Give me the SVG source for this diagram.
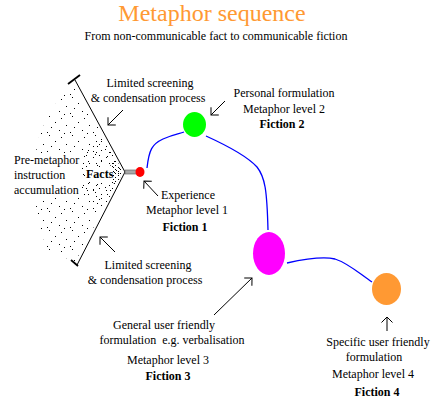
<svg xmlns="http://www.w3.org/2000/svg" width="440" height="416" viewBox="0 0 440 416">
<style>
text{font-family:"Liberation Serif","Times New Roman",serif;font-size:12px;fill:#000}
.c{text-anchor:middle}
.b{font-weight:bold}
.title{font-size:24px;fill:#FF9933}
.ln{stroke:#000;stroke-width:1;fill:none}
.tick{stroke:#000;stroke-width:1.8;fill:none}
.arr{stroke:#000;stroke-width:1;fill:none;marker-end:url(#ah)}
.blue{stroke:#0000FF;stroke-width:1.3;fill:none}
.d{fill:#000}
</style>
<defs>
<marker id="ah" markerUnits="userSpaceOnUse" markerWidth="12" markerHeight="12" viewBox="-7 -6 8 12" refX="0" refY="0" orient="auto">
<path d="M-5.5,-5.5 L0,0 L-5.5,5.5" fill="none" stroke="#000" stroke-width="1"/>
</marker>
<pattern id="p1" patternUnits="userSpaceOnUse" width="23" height="19">
<path class="d" d="M3,2h1v1h-1z M15,4h1v1h-1z M9,8h1v1h-1z M20,11h1v1h-1z M5,13h1v1h-1z M13,16h1v1h-1z M1,18h1v1h-1z M18,0h1v1h-1z"/>
</pattern>
<pattern id="p2" patternUnits="userSpaceOnUse" width="13" height="11">
<path class="d" d="M2,3h1v1h-1z M8,1h1v1h-1z M10,7h1v1h-1z M5,9h1v1h-1z"/>
</pattern>
<pattern id="p3" patternUnits="userSpaceOnUse" width="5" height="4">
<path class="d" d="M0,1h1v1h-1z M3,3h1v1h-1z"/>
</pattern>
<clipPath id="fan">
<polygon points="123,172 75,83 62,95 48,115 38,140 33,170 35,200 40,230 48,250 75,262"/>
</clipPath>
</defs>
<rect width="440" height="416" fill="#fff"/>

<g id="title">
<text class="title c" x="212" y="21">Metaphor sequence</text>
<text class="c" x="216" y="40">From non-communicable fact to communicable fiction</text>
</g>

<g id="stipple" clip-path="url(#fan)">
<rect x="0" y="60" width="130" height="220" fill="url(#p1)"/>
<circle cx="125" cy="172" r="45" fill="url(#p2)"/>
<circle cx="125" cy="172" r="16" fill="url(#p3)"/>
</g>

<g id="screen">
<line class="ln" x1="75" y1="80" x2="125" y2="172"/>
<line class="ln" x1="125" y1="172" x2="77" y2="265"/>
<line class="tick" x1="68" y1="84" x2="80" y2="75"/>
<line class="tick" x1="71" y1="260" x2="78" y2="266"/>
</g>

<g id="premetaphor">
<rect x="12" y="153" width="70" height="45" fill="#fff"/>
<text x="14" y="164">Pre-metaphor</text>
<text x="14" y="179">instruction</text>
<text x="14" y="194">accumulation</text>
</g>

<g id="facts">
<rect x="85" y="167" width="28" height="14" fill="#fff"/>
<text class="b" x="86" y="178">Facts</text>
<rect x="125" y="170" width="12" height="4" fill="#a8a8a8" stroke="#555" stroke-width="0.6"/>
</g>

<g id="connectors">
<path class="blue" d="M147,168 C149,150 152,144 163,139 S178,134 184,132"/>
<path class="blue" d="M206,136 C228,146 247,156 257,167 C265,177 267,190 268,230"/>
<path class="blue" d="M287,263 C305,259 322,256 335,259 C348,263 360,274 372,282"/>
<line class="arr" x1="123" y1="110" x2="108" y2="125"/>
<line class="arr" x1="225" y1="101" x2="211" y2="115"/>
<line class="arr" x1="158" y1="196" x2="144" y2="181"/>
<line class="arr" x1="115" y1="252" x2="100" y2="237"/>
<line class="arr" x1="214" y1="315" x2="252" y2="278"/>
<line class="arr" x1="387" y1="331" x2="387" y2="317"/>
</g>

<g id="fiction1">
<ellipse cx="140" cy="172" rx="4.5" ry="5" fill="#FF0000"/>
<text class="c" x="188" y="199">Experience</text>
<text class="c" x="187" y="214">Metaphor level 1</text>
<text class="c b" x="185" y="231">Fiction 1</text>
</g>

<g id="fiction2">
<ellipse cx="194.5" cy="124.5" rx="11.5" ry="12.5" fill="#00FF00"/>
<text class="c" x="284" y="97">Personal formulation</text>
<text class="c" x="284" y="113">Metaphor level 2</text>
<text class="c b" x="282" y="128">Fiction 2</text>
</g>

<g id="fiction3">
<ellipse cx="269" cy="253.5" rx="16" ry="21.5" fill="#FF00FF"/>
<text class="c" x="164" y="329">General user friendly</text>
<text class="c" x="172" y="344" xml:space="preserve">formulation  e.g. verbalisation</text>
<text class="c" x="168" y="364">Metaphor level 3</text>
<text class="c b" x="168" y="380">Fiction 3</text>
</g>

<g id="fiction4">
<ellipse cx="386.5" cy="289" rx="14.5" ry="16" fill="#FF9933"/>
<text class="c" x="378" y="346">Specific user friendly</text>
<text class="c" x="374" y="361">formulation</text>
<text class="c" x="373" y="378">Metaphor level 4</text>
<text class="c b" x="377" y="396">Fiction 4</text>
</g>

<g id="screening-labels">
<text class="c" x="150" y="87">Limited screening</text>
<text class="c" x="148" y="102">&amp; condensation process</text>
<text class="c" x="148" y="269">Limited screening</text>
<text class="c" x="145" y="284">&amp; condensation process</text>
</g>
</svg>
